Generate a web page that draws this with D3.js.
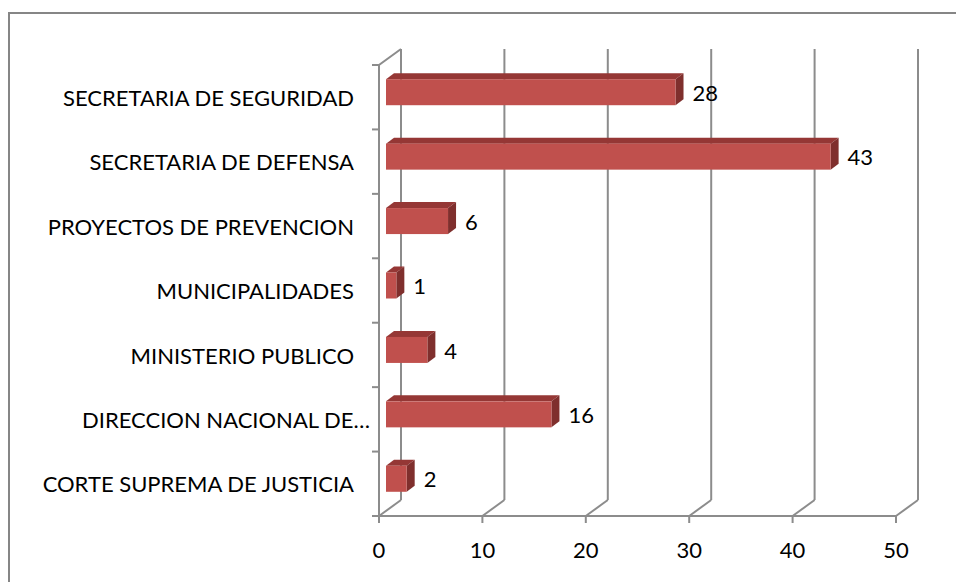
<!DOCTYPE html>
<meta charset="utf-8">
<style>
  body { margin: 0; background: #fff; }
  svg text { font-family: Lato, "Open Sans", sans-serif; fill: #000; }
</style>
<body>
<script src="https://d3js.org/d3.v7.min.js"></script>
<script>

var width = 956,
    height = 582;

var categories = ["SECRETARIA DE SEGURIDAD", "SECRETARIA DE DEFENSA", "PROYECTOS DE PREVENCION",
                  "MUNICIPALIDADES", "MINISTERIO PUBLICO", "DIRECCION NACIONAL DE\u2026",
                  "CORTE SUPREMA DE JUSTICIA"];
var values = [28, 43, 6, 1, 4, 16, 2];
var xTicks = [0, 10, 20, 30, 40, 50];

// 3d depth of the plot box, and of the bars
var depthX = 22, depthY = 16;
var barOffX = 7, barDX = 8, barDY = 6;
var fontSize = 22;

var svg = d3.select("body").append("svg")
    .attr("width", width)
    .attr("height", height);

// outer chart border (right and bottom are off the page)
svg.append("path")
    .attr("d", "M9,600V13H960")
    .attr("fill", "none")
    .attr("stroke", "#868686")
    .attr("stroke-width", 2);

var x = d3.scaleLinear().domain([0, 50]).range([379, 896]);
var y = d3.scaleBand().domain(categories).range([65, 516]);

var grid = svg.append("g")
    .attr("stroke", "#8c8c8c")
    .attr("stroke-width", 2)
    .attr("fill", "none");

// back wall vertical gridlines + floor diagonals + ticks
xTicks.forEach(function(t) {
  var xf = x(t), xb = x(t) + depthX;
  grid.append("path").attr("d", "M" + xb + "," + (65 - depthY) + "V" + (516 - depthY));
  grid.append("path").attr("d", "M" + xf + ",516L" + xb + "," + (516 - depthY));
  grid.append("path").attr("d", "M" + xf + ",516V523");
});

// left wall
grid.append("path").attr("d", "M" + x(0) + ",516V65L" + (x(0) + depthX) + "," + (65 - depthY));
grid.append("path").attr("d", "M" + x(0) + ",516H" + x(50));

// category ticks
var bounds = categories.map(function(c) { return y(c); }).concat([516]);
bounds.forEach(function(b) {
  grid.append("path").attr("d", "M372," + b + "H" + x(0));
});

// bars
var barH = 26;
var bars = svg.append("g").selectAll("g")
    .data(categories.map(function(c, i) { return {cat: c, v: values[i]}; }))
    .join("g");

function bx0() { return x(0) + barOffX; }
function bx1(d) { return x(d.v) + barOffX; }
function by0(d) { return y(d.cat) + y.bandwidth() / 2 - 5 - barH / 2; }
function by1(d) { return by0(d) + barH; }

bars.append("path")
    .attr("fill", "#953735")
    .attr("d", function(d) {
      return "M" + bx0() + "," + by0(d) + "L" + (bx0() + barDX) + "," + (by0(d) - barDY) +
             "H" + (bx1(d) + barDX) + "L" + bx1(d) + "," + by0(d) + "Z";
    });
bars.append("path")
    .attr("fill", "#7f2f2d")
    .attr("d", function(d) {
      return "M" + bx1(d) + "," + by0(d) + "L" + (bx1(d) + barDX) + "," + (by0(d) - barDY) +
             "V" + (by1(d) - barDY) + "L" + bx1(d) + "," + by1(d) + "Z";
    });
bars.append("rect")
    .attr("fill", "#c0504d")
    .attr("x", bx0())
    .attr("y", by0)
    .attr("width", function(d) { return bx1(d) - bx0(); })
    .attr("height", barH);

bars.append("text")
    .attr("x", function(d) { return bx1(d) + barDX + 9; })
    .attr("y", function(d) { return by0(d) + barH / 2 + 1; })
    .attr("dy", "0.35em")
    .attr("font-size", fontSize)
    .text(function(d) { return d.v; });

// category labels (the truncated one runs a little past the others, like excel)
svg.append("g").selectAll("text")
    .data(categories)
    .join("text")
    .attr("x", function(c) { return c.slice(-1) === "\u2026" ? 370 : 354; })
    .attr("y", function(c) { return y(c) + y.bandwidth() / 2 + 1; })
    .attr("dy", "0.35em")
    .attr("text-anchor", "end")
    .attr("font-size", fontSize)
    .text(function(c) { return c; });

// x tick labels
svg.append("g").selectAll("text")
    .data(xTicks)
    .join("text")
    .attr("x", function(t) { return x(t); })
    .attr("y", 550)
    .attr("dy", "0.35em")
    .attr("text-anchor", "middle")
    .attr("font-size", fontSize)
    .text(function(t) { return t; });

</script>
